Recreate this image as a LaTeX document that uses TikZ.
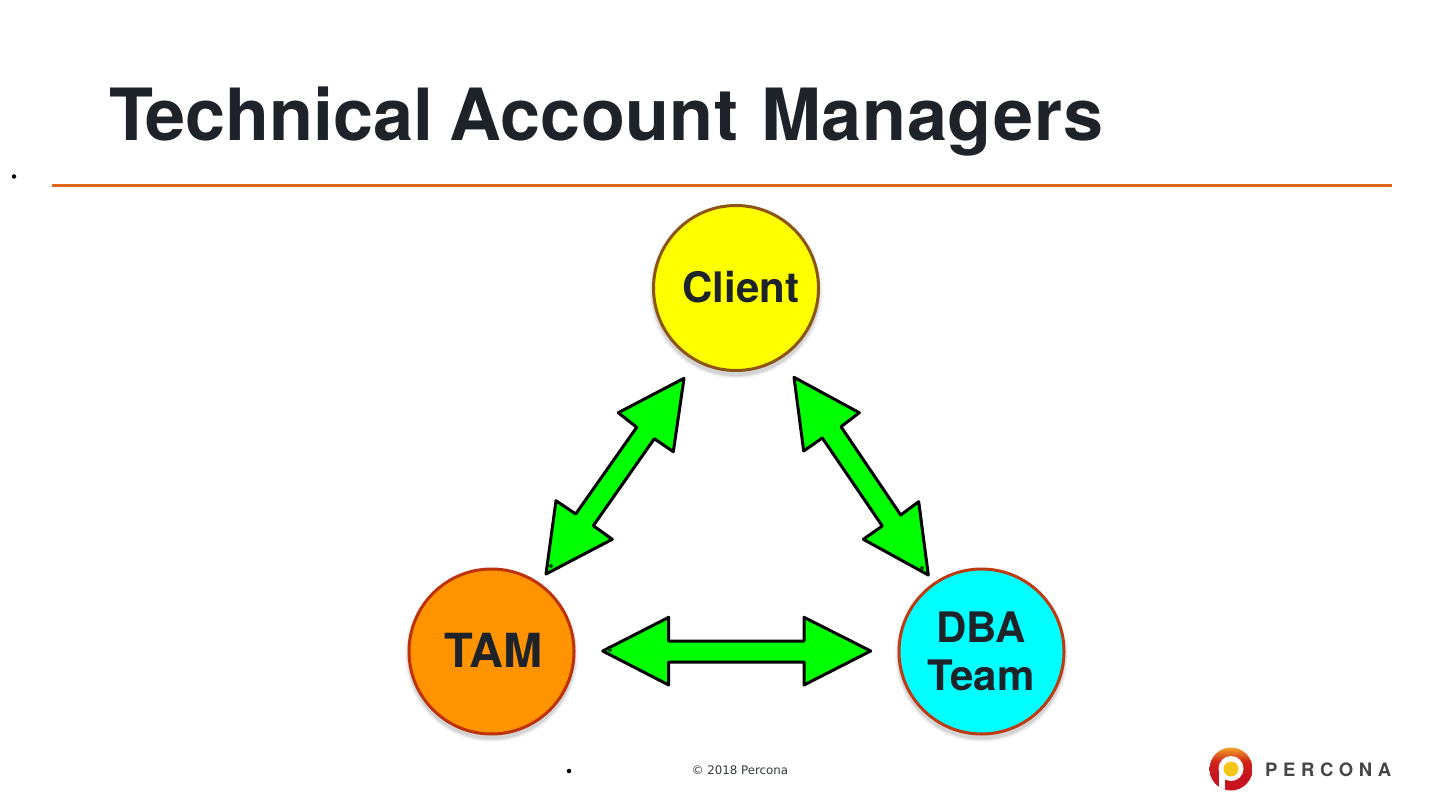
\documentclass[tikz,border=0pt]{standalone}
\usepackage{fontspec}
\setmainfont{TeX Gyre Heros}
\newfontfamily\footfont{DejaVu Sans}
\usetikzlibrary{calc}
\definecolor{inkdark}{HTML}{1D2329}
\definecolor{rulec}{HTML}{E0661A}
\definecolor{arrowg}{HTML}{00FF00}
\definecolor{ccyan}{HTML}{00FFFF}
\definecolor{cyellow}{HTML}{FFFF00}
\definecolor{corange}{HTML}{FF9300}
\definecolor{logored}{HTML}{C8141E}
\definecolor{logotop}{HTML}{F2A52A}
\definecolor{logoyel}{HTML}{F5C518}
\tikzset{
  x=1pt,y=-1pt,
  blockarrow/.style={draw=black,fill=arrowg,line width=3pt,line join=round},
  circ/.style={circle,minimum size=165pt,inner sep=0pt,line width=3pt},
  lab/.style={inner sep=0pt,font=\fontsize{42}{48}\selectfont\bfseries,text=inkdark,align=center},
  tipdot/.style={circle,fill=black!70!arrowg,inner sep=0pt,minimum size=4pt},
  bul/.style={circle,fill=black,inner sep=0pt,minimum size=4.5pt},
}
\newcommand{\softshadow}[1]{%
  \foreach \r/\o in {87/0.02,86/0.03,85/0.05,84/0.07}{
    \fill[black,opacity=\o] ($(#1)+(0,4)$) circle[radius=\r];
  }}
\begin{document}
\begin{tikzpicture}
\useasboundingbox (0,0) rectangle (1440,810);
\fill[white] (0,0) rectangle (1440,810);
\node[anchor=base west,inner sep=0pt,font=\fontsize{72}{80}\selectfont\bfseries,text=inkdark] (title) at (109,141) {T\kern-8pt echnical\hspace{-4pt} {\addfontfeatures{LetterSpace=0.4}Account}\hspace{3pt} {\addfontfeatures{LetterSpace=1}Managers}};
\coordinate (ruleL) at (52,185.5);
\coordinate (ruleR) at (1392,185.5);
\draw[rulec,line width=3.4pt] (ruleL) -- (ruleR);
\node[bul] (b1) at (14,176.5) {};
\node[bul] (b2) at (569,771) {};
\node[anchor=base,inner sep=0pt,font=\footfont\fontsize{11.8}{15}\selectfont,text=inkdark!90] (foot) at (740,774) {© 2018 Percona};
% arrows
\draw[blockarrow] (684,378.3)--(618.3,412.7)--(636.7,427.3)--(575.7,514)--(556,500.7)--(546,574)--(612.3,539.3)--(593.3,525.7)--(654.3,438.7)--(673.3,451.7)--cycle;
\draw[blockarrow] (794,377.3)--(859.3,412.7)--(841,426.7)--(900.7,515)--(918.7,501.7)--(928.3,575)--(863.3,539.3)--(882.3,526)--(822.3,438)--(803.7,451)--cycle;
\draw[blockarrow] (602.7,651)--(668.7,617.3)--(668.7,641)--(804,641)--(804,617.3)--(870.7,651)--(804,685)--(804,662)--(668.7,662)--(668.7,685)--cycle;
\node[tipdot] (d1) at (551,566) {};
\node[tipdot] (d2) at (610,650) {};
\node[tipdot] (d3) at (922,568) {};
% circles
\coordinate (cc) at (736,288);
\coordinate (ct) at (491.5,651.5);
\coordinate (cd) at (981.5,651.5);
\softshadow{cc}\softshadow{ct}\softshadow{cd}
\node[circ,draw={rgb,255:red,140;green,85;blue,20},fill=cyellow] (client) at (cc) {};
\node[circ,draw={rgb,255:red,190;green,50;blue,10},fill=corange] (tam) at (ct) {};
\node[circ,draw={rgb,255:red,190;green,60;blue,20},fill=ccyan] (dba) at (cd) {};
\node[lab] (clientT) at (741,287) {Client};
\node[lab,font=\fontsize{47}{50}\selectfont\bfseries] (tamT) at (493.5,650.5) {TAM};
\node[lab] (dbaT) at (981,651.5) {DBA\\Team};
% logo
\coordinate (logoC) at (1231,769);
\begin{scope}
\clip (logoC) circle[radius=21.5];
\shade[top color=logotop,bottom color=logored,middle color=logored!85!orange] (1209,747.5) rectangle (1253,775);
\fill[logored] (1209,774) rectangle (1253,791);
\fill[white] (1219,769) rectangle (1225,791);
\end{scope}
\fill[white] (1231,768.5) circle[radius=12.5];
\fill[logoyel] (1231,769) circle[radius=7.5];
\node[anchor=base west,inner sep=0pt,font=\fontsize{18.5}{20}\selectfont\bfseries,text=black!72] (logoT) at (1265,776) {P\hspace{5.6pt}E\hspace{5.6pt}R\hspace{5.6pt}C\hspace{5.6pt}O\hspace{5.6pt}N\hspace{5.6pt}A};
\end{tikzpicture}
\end{document}
